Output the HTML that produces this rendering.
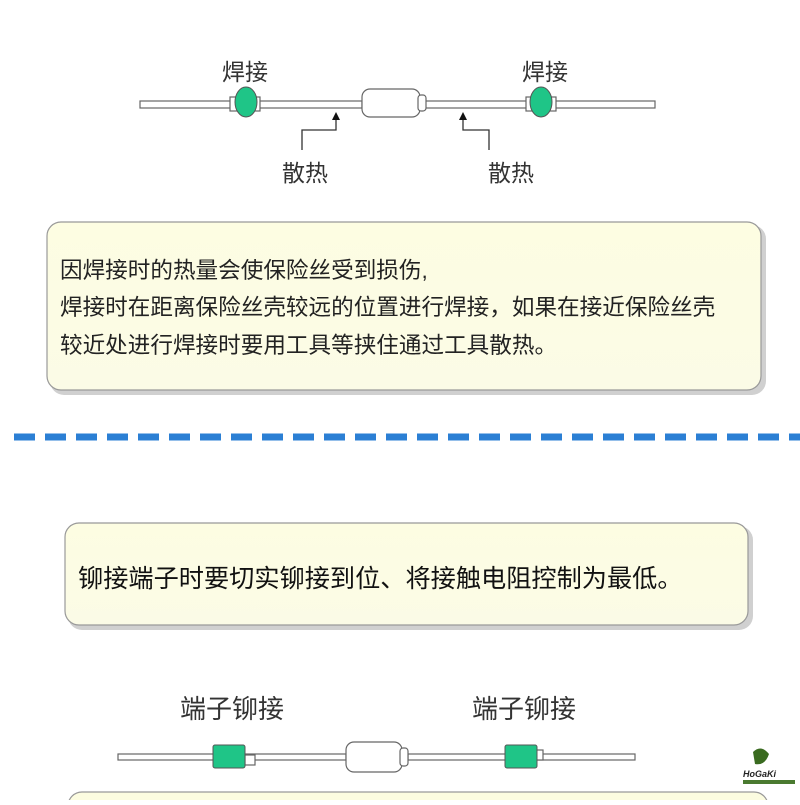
<!DOCTYPE html>
<html><head><meta charset="utf-8"><style>
body{margin:0;background:#fff;width:800px;height:800px;overflow:hidden}
svg text{font-family:"Liberation Sans","Noto Sans CJK SC",sans-serif}
</style></head><body>
<svg width="800" height="800" viewBox="0 0 800 800" xmlns="http://www.w3.org/2000/svg">
<defs>
<linearGradient id="g" x1="0" y1="0" x2="0" y2="1"><stop offset="0" stop-color="#fdfde2"/><stop offset="1" stop-color="#fbfbe6"/></linearGradient>
</defs>
<g stroke="#666" stroke-width="1.2" fill="#fff">
<rect x="140" y="101" width="222" height="7"/>
<rect x="425" y="101" width="230" height="7"/>
<rect x="230" y="97" width="30" height="14" fill="#fff"/>
<rect x="526" y="97" width="30" height="14" fill="#fff"/>
<rect x="362" y="89" width="58" height="28" rx="8"/>
<rect x="418" y="95" width="8" height="16" rx="3"/>
</g>
<ellipse cx="246" cy="102" rx="11" ry="15" fill="#1fc587" stroke="#555"/>
<ellipse cx="541" cy="102" rx="11" ry="15" fill="#1fc587" stroke="#555"/>
<g stroke="#333" stroke-width="1.3" fill="none">
<path d="M336 115 V130 H302 V150"/>
<path d="M463 115 V130 H489 V150"/>
</g>
<path d="M332 120 L336 112 L340 120Z M459 120 L463 112 L467 120Z" fill="#111"/>
<g font-size="23" fill="#333">
<text x="222" y="80">焊接</text><text x="522" y="80">焊接</text>
<text x="282" y="181">散热</text><text x="488" y="181">散热</text>
</g>
<rect x="50" y="225" width="716" height="170" rx="14" fill="#d0d0d0"/>
<rect x="47" y="222" width="714" height="168" rx="14" fill="url(#g)" stroke="#999" stroke-width="1.2"/>
<g font-size="22.6" fill="#222">
<text x="60" y="278">因焊接时的热量会使保险丝受到损伤,</text>
<text x="60" y="315">焊接时在距离保险丝壳较远的位置进行焊接，如果在接近保险丝壳</text>
<text x="60" y="353">较近处进行焊接时要用工具等挟住通过工具散热。</text>
</g>
<line x1="14" y1="437" x2="800" y2="437" stroke="#2b7fd4" stroke-width="7" stroke-dasharray="21 10"/>
<rect x="68" y="526" width="685" height="104" rx="14" fill="#d0d0d0"/>
<rect x="65" y="523" width="683" height="102" rx="14" fill="url(#g)" stroke="#999" stroke-width="1.2"/>
<text x="78" y="587" font-size="25.2" fill="#111">铆接端子时要切实铆接到位、将接触电阻控制为最低。</text>
<g font-size="26" fill="#333">
<text x="180" y="718">端子铆接</text><text x="472" y="718">端子铆接</text>
</g>
<g stroke="#666" stroke-width="1.2" fill="#fff">
<rect x="118" y="754" width="228" height="6"/>
<rect x="408" y="754" width="227" height="6"/>
<rect x="245" y="755" width="10" height="10"/>
<rect x="535" y="750" width="8" height="10"/>
<rect x="346" y="742" width="56" height="30" rx="8"/>
<rect x="400" y="748" width="8" height="18" rx="3"/>
</g>
<rect x="213" y="745" width="32" height="23" rx="2" fill="#1fc587" stroke="#555"/>
<rect x="505" y="745" width="32" height="23" rx="2" fill="#1fc587" stroke="#555"/>
<path d="M753 752 q8 -8 16 2 q-4 12 -14 10 z" fill="#3a6b20"/>
<text x="743" y="777" font-size="9" font-style="italic" font-weight="bold" fill="#222" font-family="Liberation Serif,serif">HoGaKi</text>
<rect x="743" y="780" width="52" height="4" fill="#4a7a30"/>
<rect x="68" y="792" width="700" height="30" rx="14" fill="#fcfce0" stroke="#999" stroke-width="1.2"/>
</svg>
</body></html>
